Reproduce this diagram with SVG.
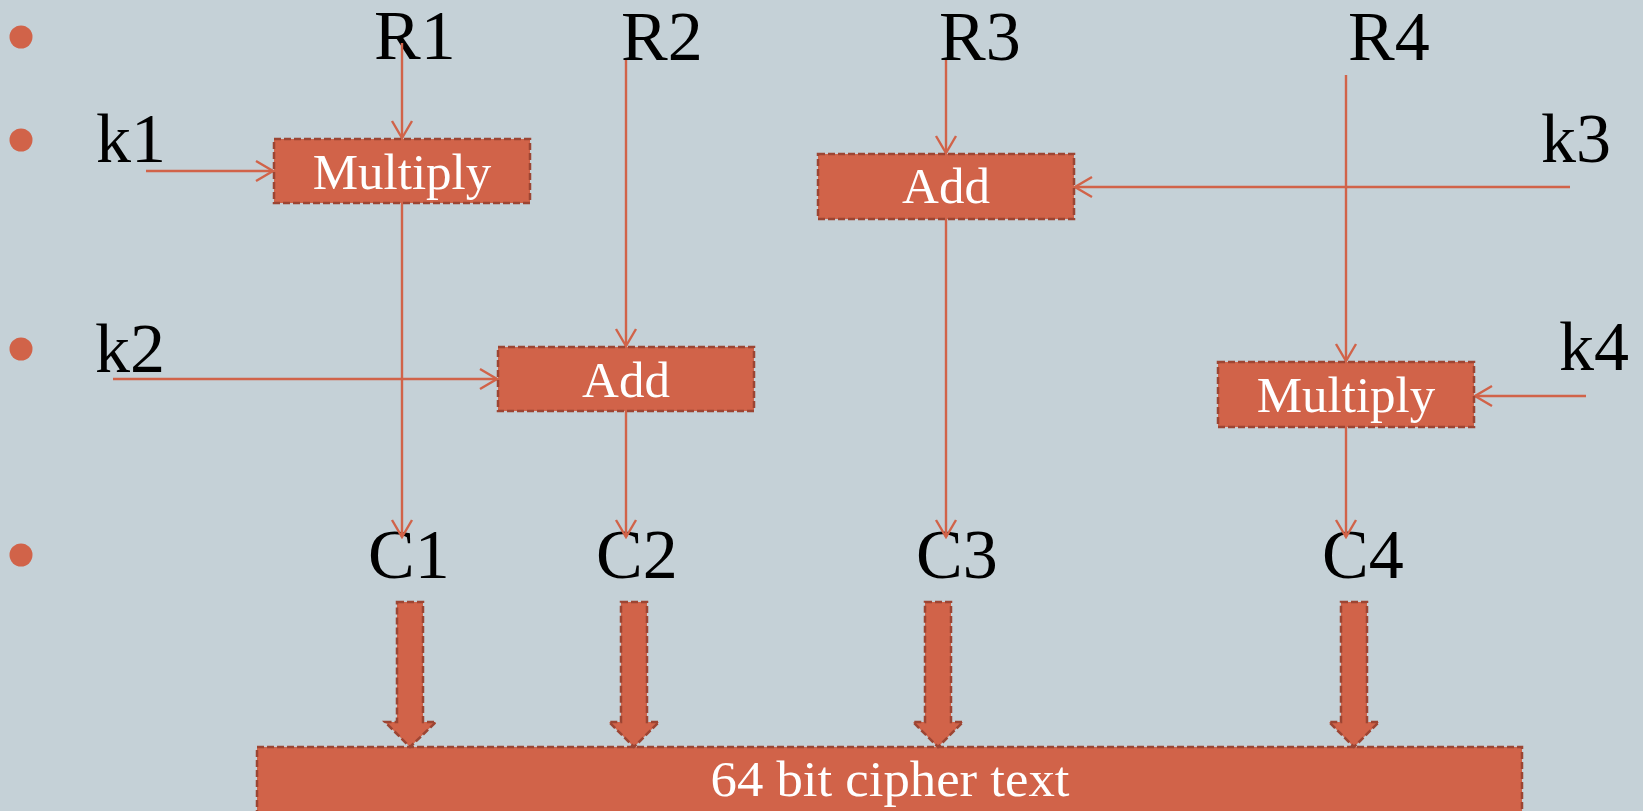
<svg xmlns="http://www.w3.org/2000/svg" width="1643" height="811" viewBox="0 0 1643 811">
<defs>
<marker id="open" markerUnits="userSpaceOnUse" viewBox="-20 -12 22 24" refX="0" refY="0" markerWidth="22" markerHeight="24" orient="auto">
<path d="M-17,-10 L0,0 L-17,10" fill="none" stroke="#D16349" stroke-width="2.4"/>
</marker>
<style>
.lbl{font-family:"Liberation Serif","Times New Roman",serif;font-size:70px;fill:#000}
.btxt{font-family:"Liberation Serif","Times New Roman",serif;font-size:51px;fill:#fff;text-anchor:middle}
.box{fill:#D16349;stroke:#9C4533;stroke-width:2.5;stroke-dasharray:7 3}
.con{stroke:#D16349;stroke-width:2.4;fill:none;marker-end:url(#open)}
.bul{fill:#D16349}
</style>
</defs>
<rect x="0" y="0" width="1643" height="811" fill="#C5D1D7"/>
<g id="bullets">
<circle class="bul" cx="21" cy="37" r="11.5"/>
<circle class="bul" cx="21" cy="140" r="11.5"/>
<circle class="bul" cx="21" cy="349" r="11.5"/>
<circle class="bul" cx="21" cy="555" r="11.5"/>
</g>
<g id="labels">
<text class="lbl" x="374" y="59">R1</text>
<text class="lbl" x="621" y="60">R2</text>
<text class="lbl" x="939" y="60">R3</text>
<text class="lbl" x="1348" y="60">R4</text>
<text class="lbl" x="96" y="162">k1</text>
<text class="lbl" x="95" y="372">k2</text>
<text class="lbl" x="1541" y="162">k3</text>
<text class="lbl" x="1559" y="370">k4</text>
<text class="lbl" x="368" y="578">C1</text>
<text class="lbl" x="596" y="578">C2</text>
<text class="lbl" x="916" y="578">C3</text>
<text class="lbl" x="1322" y="578">C4</text>
</g>
<g id="connectors">
<line class="con" x1="402" y1="43" x2="402" y2="138"/>
<line class="con" x1="402" y1="203" x2="402" y2="537"/>
<line class="con" x1="146" y1="171" x2="273" y2="171"/>
<line class="con" x1="626" y1="60" x2="626" y2="346"/>
<line class="con" x1="626" y1="411" x2="626" y2="537"/>
<line class="con" x1="113" y1="379" x2="497" y2="379"/>
<line class="con" x1="946" y1="60" x2="946" y2="153"/>
<line class="con" x1="946" y1="219" x2="946" y2="537"/>
<line class="con" x1="1570" y1="187" x2="1075" y2="187"/>
<line class="con" x1="1346" y1="75" x2="1346" y2="361"/>
<line class="con" x1="1346" y1="427" x2="1346" y2="537"/>
<line class="con" x1="1586" y1="396" x2="1475" y2="396"/>
</g>
<g id="multiply1">
<rect class="box" x="274" y="139" width="256" height="64"/>
<text class="btxt" x="402" y="189">Multiply</text>
</g>
<g id="add2">
<rect class="box" x="498" y="347" width="256" height="64"/>
<text class="btxt" x="626" y="397">Add</text>
</g>
<g id="add3">
<rect class="box" x="818" y="154" width="256" height="65"/>
<text class="btxt" x="946" y="203">Add</text>
</g>
<g id="multiply4">
<rect class="box" x="1218" y="362" width="256" height="65"/>
<text class="btxt" x="1346" y="412">Multiply</text>
</g>
<g id="cipher">
<rect class="box" x="257" y="747" width="1265" height="70"/>
<text class="btxt" x="890" y="796" textLength="359" lengthAdjust="spacingAndGlyphs">64 bit cipher text</text>
</g>
<g id="blockarrows">
<path id="barrow1" class="box" d="M397,602 H423 V722 H436 L410,747 L385,722 H397 Z"/>
<path id="barrow2" class="box" d="M621,602 H647 V722 H659 L634,747 L609,722 H621 Z"/>
<path id="barrow3" class="box" d="M925,602 H951 V722 H963 L938,747 L913,722 H925 Z"/>
<path id="barrow4" class="box" d="M1341,602 H1367 V722 H1379 L1354,747 L1329,722 H1341 Z"/>
</g>
</svg>
